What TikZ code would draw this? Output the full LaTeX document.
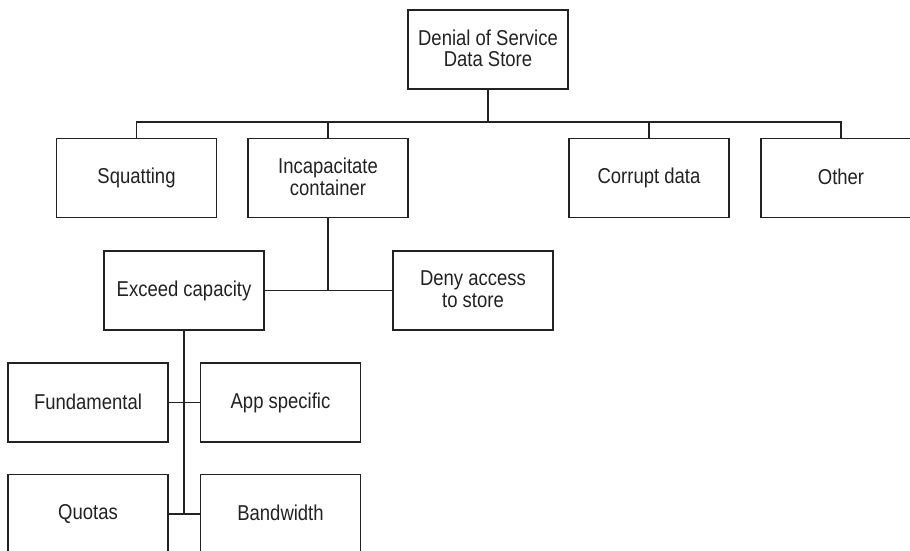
\documentclass[tikz,border=0pt]{standalone}
\usepackage{fontspec}
\setmainfont[FakeStretch=0.86]{Liberation Sans}
\definecolor{ink}{HTML}{222222}
\begin{document}
\begin{tikzpicture}[x=1pt,y=-1pt,
  box/.style={draw=ink, line width=1.2pt, minimum width=160pt, minimum height=79pt,
    inner sep=0pt, align=center, text=ink, font=\fontsize{21.5}{21.5}\selectfont,
    execute at begin node={\rule{0pt}{16pt}}, execute at end node={\rule[-3pt]{0pt}{3pt}}},
  link/.style={draw=ink, line width=1.8pt}]
\clip (0,0) rectangle (910,551);
\useasboundingbox (0,0) rectangle (910,551);
\node[box] (root) at (488,49.5) {Denial of Service\\Data Store};
\node[box] (squat) at (136.5,178) {Squatting};
\node[box] (incap) at (328,178) {Incapacitate\\container};
\node[box] (corrupt) at (649,178) {Corrupt data};
\node[box] (other) at (841,178) {Other};
\node[box] (exceed) at (184,290.5) {Exceed capacity};
\node[box] (deny) at (473,290.5) {Deny access\\to store};
\node[box] (fund) at (88,402.5) {Fundamental};
\node[box] (app) at (280.5,402.5) {App specific};
\node[box] (quotas) at (88,514) {Quotas};
\node[box] (band) at (280.5,514) {Bandwidth};
\coordinate (bus) at (488,122);
\coordinate (mid) at (328,290.5);
\coordinate (j2) at (184,514);
\draw[link] (root.south) -- (bus);
\draw[link] (squat.north) |- (bus) -| (other.north);
\draw[link] (incap.north) -- (incap.north |- bus);
\draw[link] (corrupt.north) -- (corrupt.north |- bus);
\draw[link] (incap.south) -- (mid);
\draw[link] (exceed.east) -- (deny.west);
\draw[link] (exceed.south) -- (j2);
\draw[link] (fund.east) -- (app.west);
\draw[link] (quotas.east) -- (band.west);
\end{tikzpicture}
\end{document}
